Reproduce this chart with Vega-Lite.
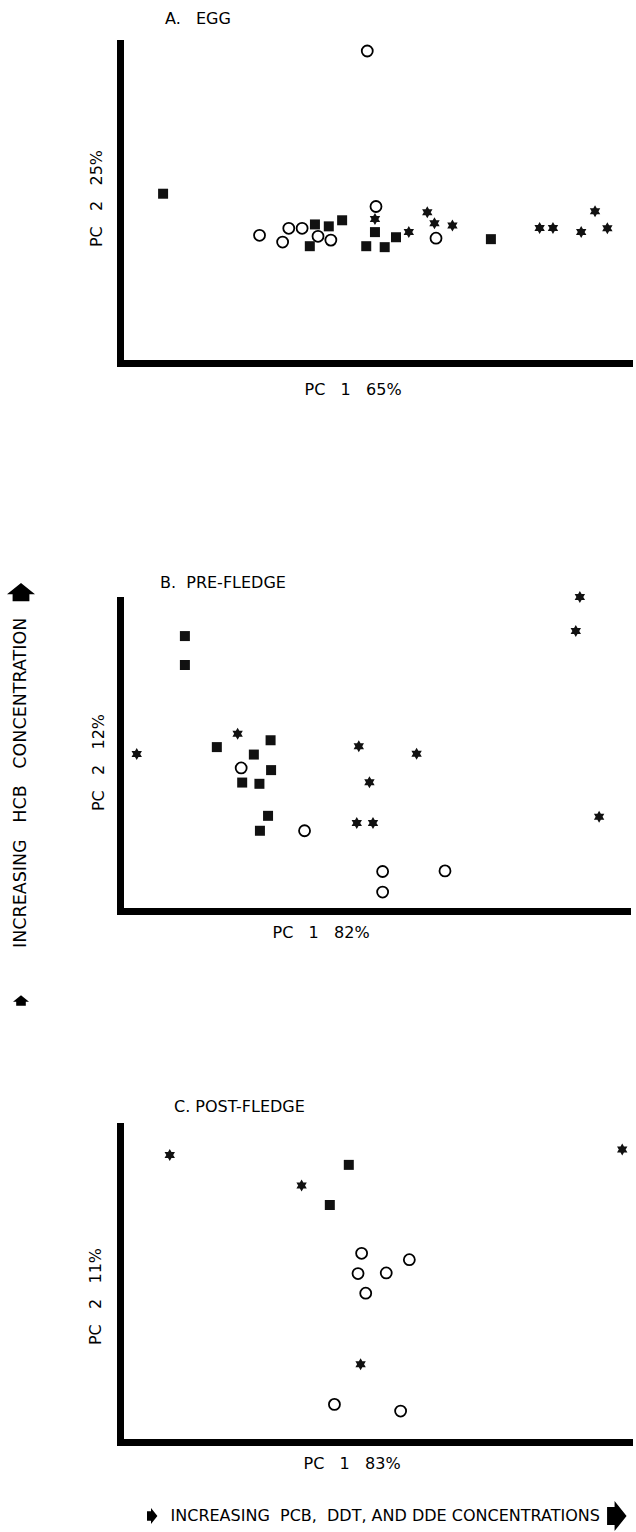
{
  "$schema": "https://vega.github.io/schema/vega-lite/v6.json",
  "padding": {"left": 7, "top": 10, "right": 0, "bottom": 0},
  "background": "white",
  "bounds": "flush",
  "align": "each",
  "columns": 2,
  "spacing": {"row": 0, "column": 85},
  "config": {
    "view": {"stroke": null},
    "font": "DejaVu Sans",
    "axis": {"domainColor": "black", "domainWidth": 7, "domainCap": "square", "ticks": false, "labels": false, "grid": false, "titleFont": "DejaVu Sans", "titleFontSize": 16, "titleFontWeight": "normal", "titleColor": "black"},
    "title": {"font": "DejaVu Sans", "fontSize": 16, "fontWeight": "normal", "color": "black", "anchor": "start", "frame": "group", "baseline": "alphabetic"}
  },
  "datasets": {
    "egg": [
      {"type": "circle", "pc1": 48.2, "pc2": 97.5},
      {"type": "circle", "pc1": 27.2, "pc2": 39.9},
      {"type": "circle", "pc1": 31.7, "pc2": 37.8},
      {"type": "circle", "pc1": 32.9, "pc2": 42.1},
      {"type": "circle", "pc1": 35.5, "pc2": 42.1},
      {"type": "circle", "pc1": 38.6, "pc2": 39.6},
      {"type": "circle", "pc1": 41.1, "pc2": 38.4},
      {"type": "circle", "pc1": 49.9, "pc2": 48.9},
      {"type": "circle", "pc1": 61.6, "pc2": 39.0},
      {"type": "square", "pc1": 8.4, "pc2": 52.9},
      {"type": "square", "pc1": 37.0, "pc2": 36.5},
      {"type": "square", "pc1": 38.0, "pc2": 43.3},
      {"type": "square", "pc1": 40.7, "pc2": 42.7},
      {"type": "square", "pc1": 43.3, "pc2": 44.6},
      {"type": "square", "pc1": 48.0, "pc2": 36.5},
      {"type": "square", "pc1": 49.7, "pc2": 40.9},
      {"type": "square", "pc1": 51.6, "pc2": 36.2},
      {"type": "square", "pc1": 53.8, "pc2": 39.3},
      {"type": "square", "pc1": 72.3, "pc2": 38.7},
      {"type": "star", "pc1": 49.7, "pc2": 45.0},
      {"type": "star", "pc1": 56.3, "pc2": 40.9},
      {"type": "star", "pc1": 59.9, "pc2": 47.1},
      {"type": "star", "pc1": 61.3, "pc2": 43.7},
      {"type": "star", "pc1": 64.8, "pc2": 43.0},
      {"type": "star", "pc1": 81.8, "pc2": 42.2},
      {"type": "star", "pc1": 84.4, "pc2": 42.2},
      {"type": "star", "pc1": 89.9, "pc2": 40.9},
      {"type": "star", "pc1": 92.6, "pc2": 47.4},
      {"type": "star", "pc1": 95.0, "pc2": 42.1}
    ],
    "prefledge": [
      {"type": "square", "pc1": 12.8, "pc2": 88.4},
      {"type": "square", "pc1": 12.8, "pc2": 79.1},
      {"type": "square", "pc1": 19.1, "pc2": 52.7},
      {"type": "square", "pc1": 26.4, "pc2": 50.3},
      {"type": "square", "pc1": 29.7, "pc2": 54.9},
      {"type": "square", "pc1": 29.8, "pc2": 45.3},
      {"type": "square", "pc1": 24.1, "pc2": 41.3},
      {"type": "square", "pc1": 27.5, "pc2": 40.9},
      {"type": "square", "pc1": 29.2, "pc2": 30.6},
      {"type": "square", "pc1": 27.6, "pc2": 25.8},
      {"type": "circle", "pc1": 23.9, "pc2": 46.0},
      {"type": "circle", "pc1": 36.4, "pc2": 25.8},
      {"type": "circle", "pc1": 51.8, "pc2": 12.7},
      {"type": "circle", "pc1": 51.8, "pc2": 6.1},
      {"type": "circle", "pc1": 64.1, "pc2": 12.9},
      {"type": "star", "pc1": 3.3, "pc2": 50.5},
      {"type": "star", "pc1": 23.2, "pc2": 57.0},
      {"type": "star", "pc1": 47.1, "pc2": 53.0},
      {"type": "star", "pc1": 49.2, "pc2": 41.4},
      {"type": "star", "pc1": 58.5, "pc2": 50.6},
      {"type": "star", "pc1": 46.7, "pc2": 28.3},
      {"type": "star", "pc1": 49.9, "pc2": 28.3},
      {"type": "star", "pc1": 90.7, "pc2": 101.0},
      {"type": "star", "pc1": 89.9, "pc2": 90.0},
      {"type": "star", "pc1": 94.5, "pc2": 30.3}
    ],
    "postfledge": [
      {"type": "star", "pc1": 9.7, "pc2": 90.8},
      {"type": "star", "pc1": 35.4, "pc2": 81.2},
      {"type": "star", "pc1": 97.9, "pc2": 92.6},
      {"type": "star", "pc1": 46.9, "pc2": 24.6},
      {"type": "square", "pc1": 44.6, "pc2": 87.7},
      {"type": "square", "pc1": 40.9, "pc2": 75.0},
      {"type": "circle", "pc1": 47.1, "pc2": 59.7},
      {"type": "circle", "pc1": 56.4, "pc2": 57.7},
      {"type": "circle", "pc1": 46.4, "pc2": 53.3},
      {"type": "circle", "pc1": 51.9, "pc2": 53.5},
      {"type": "circle", "pc1": 47.9, "pc2": 47.1},
      {"type": "circle", "pc1": 41.8, "pc2": 11.9},
      {"type": "circle", "pc1": 54.7, "pc2": 9.8}
    ]
  },
  "concat": [
    {"width": 28, "height": 1, "data": {"values": []}, "mark": "point"},
    {
      "width": 513,
      "height": 320,
      "title": {"text": "A.\u00a0\u00a0\u00a0EGG", "dx": 45, "offset": 15},
      "data": {"name": "egg"},
      "encoding": {
        "x": {"field": "pc1", "type": "quantitative", "scale": {"domain": [0, 100], "nice": false, "zero": false}, "axis": {"title": "PC\u00a0\u00a0\u00a01\u00a0\u00a0\u00a065%", "titleAlign": "left", "titleAnchor": "start", "titleX": 184, "titleY": 31, "titleBaseline": "alphabetic"}},
        "y": {"field": "pc2", "type": "quantitative", "scale": {"domain": [0, 100], "nice": false, "zero": false}, "axis": {"title": "PC\u00a0\u00a0\u00a02\u00a0\u00a0\u00a025%", "titleAngle": 270, "titleAlign": "center", "titleBaseline": "alphabetic", "titleX": -19, "titleY": 155}}
      },
      "layer": [
        {"transform": [{"filter": "datum.type === 'circle'"}], "mark": {"type": "point", "shape": "circle", "size": 121, "filled": false, "stroke": "black", "strokeWidth": 1.8, "opacity": 1}},
        {"transform": [{"filter": "datum.type === 'square'"}], "mark": {"type": "point", "shape": "square", "size": 100, "filled": true, "fill": "#111", "strokeWidth": 0, "opacity": 1}},
        {"transform": [{"filter": "datum.type === 'star'"}], "mark": {"type": "point", "shape": "M0,-1L0.866,0.5L-0.866,0.5Z M0,1L-0.866,-0.5L0.866,-0.5Z", "size": 144, "filled": true, "fill": "#111", "strokeWidth": 0, "opacity": 1}}
      ]
    },
    {"width": 28, "height": 237, "data": {"values": []}, "mark": "point"},
    {"width": 1, "height": 1, "data": {"values": []}, "mark": "point"},
    {
      "width": 28,
      "height": 311,
      "layer": [
        {"data": {"values": [{}]}, "mark": {"type": "text", "text": "INCREASING\u00a0\u00a0\u00a0HCB\u00a0\u00a0\u00a0CONCENTRATION", "angle": 270, "align": "center", "baseline": "middle", "fontSize": 17.5, "color": "black"}, "encoding": {"y": {"datum": 41.2, "type": "quantitative", "scale": {"domain": [0, 100], "nice": false, "zero": false}, "axis": null}}},
        {"data": {"values": [{}]}, "mark": {"type": "point", "shape": "M0,-0.7L1,0.1L0.6,0.1L0.6,0.6L-0.6,0.6L-0.6,0.1L-1,0.1Z", "size": 784, "filled": true, "fill": "black", "strokeWidth": 0, "opacity": 1}, "encoding": {"y": {"datum": 102.3, "type": "quantitative", "scale": {"domain": [0, 100], "nice": false, "zero": false}, "axis": null}}},
        {"data": {"values": [{}]}, "mark": {"type": "point", "shape": "M0,-0.7L1,0.1L0.6,0.1L0.6,0.6L-0.6,0.6L-0.6,0.1L-1,0.1Z", "size": 256, "filled": true, "fill": "black", "strokeWidth": 0, "opacity": 1}, "encoding": {"y": {"datum": -28.9, "type": "quantitative", "scale": {"domain": [0, 100], "nice": false, "zero": false}, "axis": null}}}
      ]
    },
    {
      "width": 507,
      "height": 311,
      "title": {"text": "B.\u00a0\u00a0PRE-FLEDGE", "dx": 40, "offset": 0},
      "data": {"name": "prefledge"},
      "encoding": {
        "x": {"field": "pc1", "type": "quantitative", "scale": {"domain": [0, 100], "nice": false, "zero": false}, "axis": {"title": "PC\u00a0\u00a0\u00a01\u00a0\u00a0\u00a082%", "titleAlign": "left", "titleAnchor": "start", "titleX": 152, "titleY": 26, "titleBaseline": "alphabetic"}},
        "y": {"field": "pc2", "type": "quantitative", "scale": {"domain": [0, 100], "nice": false, "zero": false}, "axis": {"title": "PC\u00a0\u00a0\u00a02\u00a0\u00a0\u00a012%", "titleAngle": 270, "titleAlign": "center", "titleBaseline": "alphabetic", "titleX": -17, "titleY": 162}}
      },
      "layer": [
        {"transform": [{"filter": "datum.type === 'circle'"}], "mark": {"type": "point", "shape": "circle", "size": 121, "filled": false, "stroke": "black", "strokeWidth": 1.8, "opacity": 1}},
        {"transform": [{"filter": "datum.type === 'square'"}], "mark": {"type": "point", "shape": "square", "size": 100, "filled": true, "fill": "#111", "strokeWidth": 0, "opacity": 1}},
        {"transform": [{"filter": "datum.type === 'star'"}], "mark": {"type": "point", "shape": "M0,-1L0.866,0.5L-0.866,0.5Z M0,1L-0.866,-0.5L0.866,-0.5Z", "size": 144, "filled": true, "fill": "#111", "strokeWidth": 0, "opacity": 1}}
      ]
    },
    {"width": 28, "height": 215, "data": {"values": []}, "mark": "point"},
    {"width": 1, "height": 1, "data": {"values": []}, "mark": "point"},
    {"width": 28, "height": 1, "data": {"values": []}, "mark": "point"},
    {
      "width": 513,
      "height": 316,
      "title": {"text": "C.\u00a0POST-FLEDGE", "dx": 54, "offset": 11},
      "data": {"name": "postfledge"},
      "encoding": {
        "x": {"field": "pc1", "type": "quantitative", "scale": {"domain": [0, 100], "nice": false, "zero": false}, "axis": {"title": "PC\u00a0\u00a0\u00a01\u00a0\u00a0\u00a083%", "titleAlign": "left", "titleAnchor": "start", "titleX": 183, "titleY": 26, "titleBaseline": "alphabetic"}},
        "y": {"field": "pc2", "type": "quantitative", "scale": {"domain": [0, 100], "nice": false, "zero": false}, "axis": {"title": "PC\u00a0\u00a0\u00a02\u00a0\u00a0\u00a011%", "titleAngle": 270, "titleAlign": "center", "titleBaseline": "alphabetic", "titleX": -20, "titleY": 170}}
      },
      "layer": [
        {"transform": [{"filter": "datum.type === 'circle'"}], "mark": {"type": "point", "shape": "circle", "size": 121, "filled": false, "stroke": "black", "strokeWidth": 1.8, "opacity": 1}},
        {"transform": [{"filter": "datum.type === 'square'"}], "mark": {"type": "point", "shape": "square", "size": 100, "filled": true, "fill": "#111", "strokeWidth": 0, "opacity": 1}},
        {"transform": [{"filter": "datum.type === 'star'"}], "mark": {"type": "point", "shape": "M0,-1L0.866,0.5L-0.866,0.5Z M0,1L-0.866,-0.5L0.866,-0.5Z", "size": 144, "filled": true, "fill": "#111", "strokeWidth": 0, "opacity": 1}}
      ]
    },
    {"width": 28, "height": 64, "data": {"values": []}, "mark": "point"},
    {"width": 1, "height": 1, "data": {"values": []}, "mark": "point"},
    {"width": 28, "height": 1, "data": {"values": []}, "mark": "point"},
    {
      "width": 513,
      "height": 20,
      "layer": [
        {"data": {"values": [{}]}, "mark": {"type": "text", "text": "INCREASING\u00a0\u00a0PCB,\u00a0\u00a0DDT,\u00a0AND\u00a0DDE\u00a0CONCENTRATIONS", "align": "center", "baseline": "middle", "fontSize": 16, "color": "black"}, "encoding": {"x": {"datum": 51.7, "type": "quantitative", "scale": {"domain": [0, 100], "nice": false, "zero": false}, "axis": null}}},
        {"data": {"values": [{}]}, "mark": {"type": "point", "shape": "M0.7,0L-0.1,-1L-0.1,-0.6L-0.6,-0.6L-0.6,0.6L-0.1,0.6L-0.1,1Z", "size": 256, "filled": true, "fill": "black", "strokeWidth": 0, "opacity": 1}, "encoding": {"x": {"datum": 6.2, "type": "quantitative", "scale": {"domain": [0, 100], "nice": false, "zero": false}, "axis": null}}},
        {"data": {"values": [{}]}, "mark": {"type": "point", "shape": "M0.7,0L-0.1,-1L-0.1,-0.6L-0.6,-0.6L-0.6,0.6L-0.1,0.6L-0.1,1Z", "size": 900, "filled": true, "fill": "black", "strokeWidth": 0, "opacity": 1}, "encoding": {"x": {"datum": 96.7, "type": "quantitative", "scale": {"domain": [0, 100], "nice": false, "zero": false}, "axis": null}}}
      ]
    }
  ]
}
